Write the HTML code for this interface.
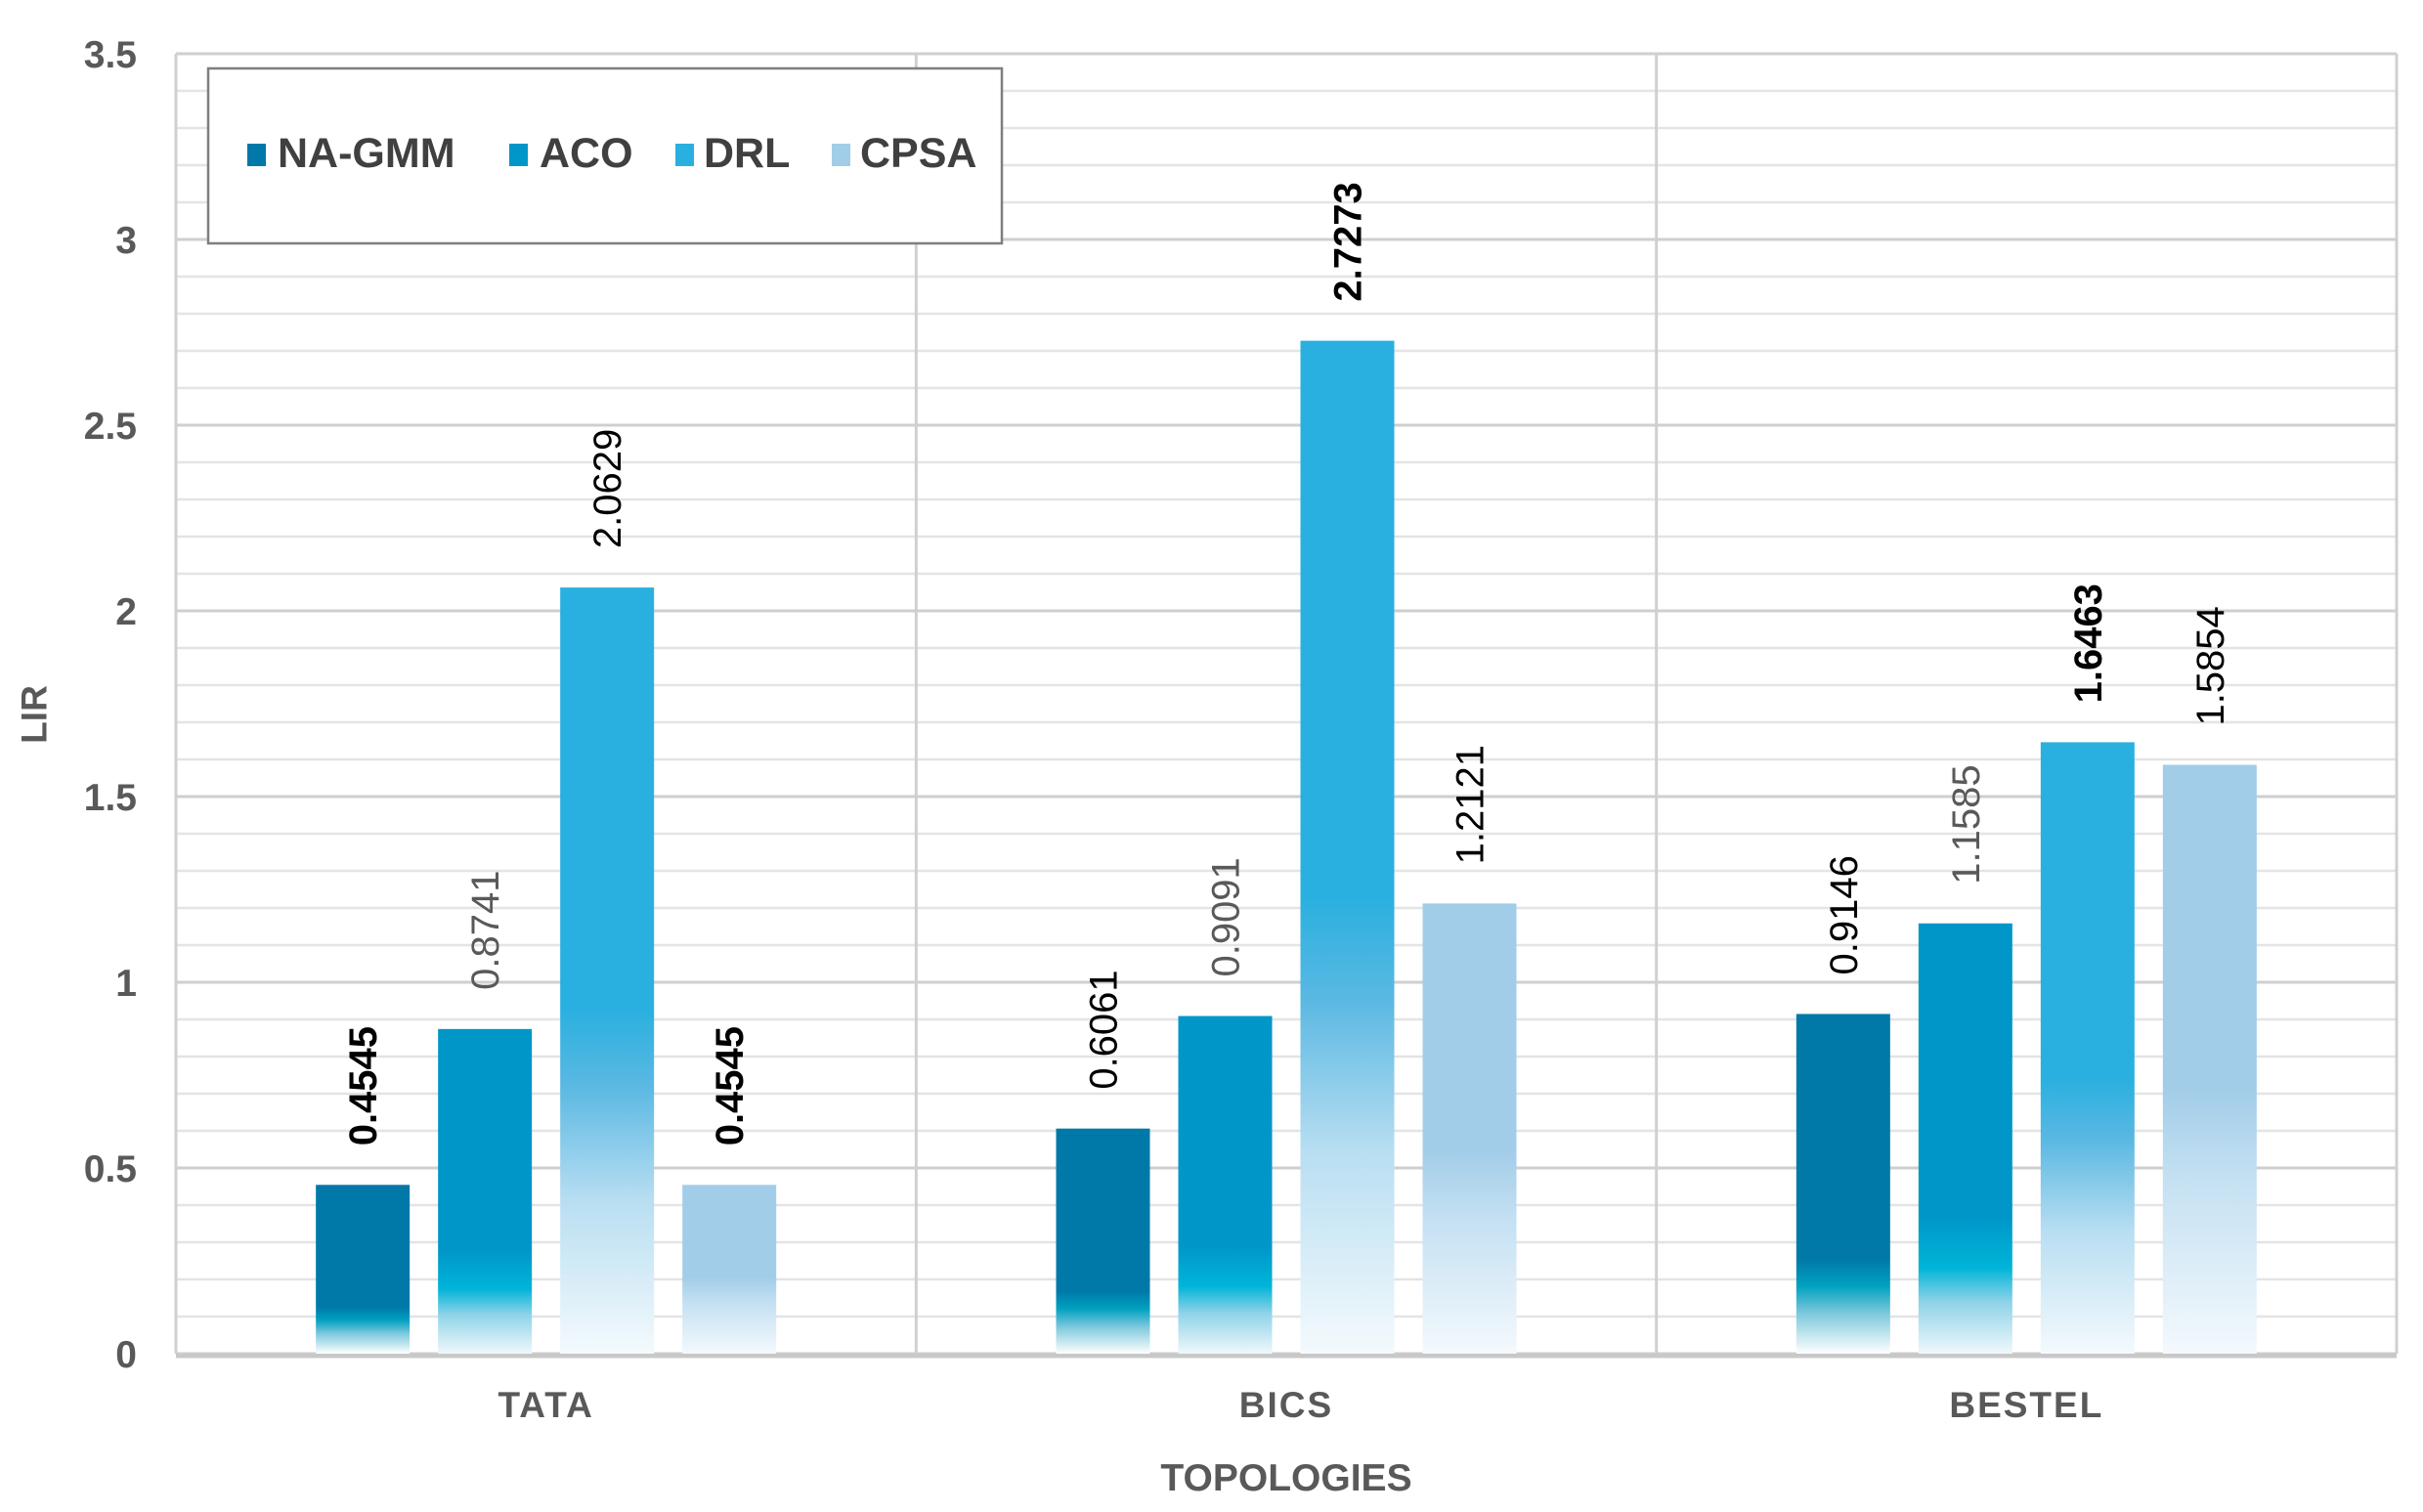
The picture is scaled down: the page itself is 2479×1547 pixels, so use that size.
<!DOCTYPE html>
<html><head><meta charset="utf-8"><style>
body{margin:0;background:#fff}
svg{display:block;font-family:"Liberation Sans",Arial,sans-serif}
</style></head><body>
<svg id="c" width="2479" height="1547" viewBox="0 0 2479 1547">
<defs>
<linearGradient id="g0" x1="0" y1="1" x2="0" y2="0"><stop offset="0" stop-color="#fff"/><stop offset="0.12" stop-color="#7cc8dc"/><stop offset="0.2" stop-color="#00a0c0"/><stop offset="0.28" stop-color="#0078a8"/><stop offset="1" stop-color="#0078a8"/></linearGradient>
<linearGradient id="g1" x1="0" y1="1" x2="0" y2="0"><stop offset="0" stop-color="#f0f8fc"/><stop offset="0.12" stop-color="#8fd3e8"/><stop offset="0.2" stop-color="#00b4d8"/><stop offset="0.32" stop-color="#0096c8"/><stop offset="1" stop-color="#0096c8"/></linearGradient>
<linearGradient id="g2" x1="0" y1="1" x2="0" y2="0"><stop offset="0" stop-color="#f4fafd"/><stop offset="0.2" stop-color="#b8def2"/><stop offset="0.35" stop-color="#5ab8e2"/><stop offset="0.45" stop-color="#2ab0e0"/><stop offset="1" stop-color="#2ab0e0"/></linearGradient>
<linearGradient id="g3" x1="0" y1="1" x2="0" y2="0"><stop offset="0" stop-color="#f4f9fd"/><stop offset="0.3" stop-color="#c4e0f2"/><stop offset="0.45" stop-color="#a2cde9"/><stop offset="1" stop-color="#a2cde9"/></linearGradient>
</defs>
<g id="grid"></g>
<g id="bars"></g>
<g id="labels"></g>
<text x="35" y="731" transform="rotate(-90 35 731)" text-anchor="middle" dominant-baseline="central" font-size="37" font-weight="bold" fill="#595959">LIR</text>
<text x="1316" y="1525" text-anchor="middle" font-size="39" font-weight="bold" fill="#595959">TOPOLOGIES</text>
<g>
<rect x="213" y="70" width="812" height="179" fill="#fff" stroke="#7f7f7f" stroke-width="2.5"/>
<rect x="253" y="147" width="19" height="23" fill="#0078a8"/><text x="284" y="171" font-size="43" font-weight="bold" fill="#404040">NA-GMM</text>
<rect x="521" y="147" width="19" height="23" fill="#0096c8"/><text x="552" y="171" font-size="43" font-weight="bold" fill="#404040">ACO</text>
<rect x="691" y="147" width="19" height="23" fill="#2ab0e0"/><text x="720" y="171" font-size="43" font-weight="bold" fill="#404040">DRL</text>
<rect x="851" y="147" width="19" height="23" fill="#a2cde9"/><text x="880" y="171" font-size="43" font-weight="bold" fill="#404040">CPSA</text>
</g>
</svg>
<script>
const categories = ["TATA", "BICS", "BESTEL"];
const seriesNames = ["NA-GMM", "ACO", "DRL", "CPSA"];
const naGmm = [0.4545, 0.6061, 0.9146];
const aco = [0.8741, 0.9091, 1.1585];
const drl = [2.0629, 2.7273, 1.6463];
const cpsa = [0.4545, 1.2121, 1.5854];
const yTicks = ["0", "0.5", "1", "1.5", "2", "2.5", "3", "3.5"];
const boldLabels = [[true,false,false],[false,false,false],[false,true,true],[true,false,false]];
const greyLabels = [[false,false,false],[true,true,true],[false,false,false],[false,false,false]];

const series = [naGmm, aco, drl, cpsa];
const L = 180, R = 2452, B = 1385, T = 55, yMax = 3.5;
const ns = "http://www.w3.org/2000/svg";
const y = v => B - v / yMax * (B - T);
const gw = (R - L) / categories.length;
const x = (ci, si) => L + gw * ci + gw / 2 + (si - 1.5) * 125;
function mk(tag, attrs, parent) { const e = document.createElementNS(ns, tag); for (const k in attrs) e.setAttribute(k, attrs[k]); parent.appendChild(e); return e; }
const grid = document.getElementById('grid'), bars = document.getElementById('bars'), labels = document.getElementById('labels');
for (let i = 0; i <= 35; i++) {
  const v = i / 10, major = i % 5 === 0;
  const ln = mk('line', {x1: L, x2: R, y1: y(v), y2: y(v), stroke: major ? '#cfcfcf' : '#e4e4e4', 'stroke-width': major ? 3 : 2.5}, grid);
  
  
}
yTicks.forEach(t => {
  const tx = mk('text', {x: 140, y: y(parseFloat(t)) + 14, 'text-anchor': 'end', 'font-size': 39, 'font-weight': 'bold', fill: '#595959'}, labels);
  tx.textContent = t;
  
  
});
for (let c = 0; c <= categories.length; c++) {
  const ln = mk('line', {x1: L + gw * c, x2: L + gw * c, y1: T, y2: B, stroke: '#d0d0d0', 'stroke-width': 3}, grid);
  
  
}
const ax = mk('line', {x1: L, x2: R, y1: B + 2, y2: B + 2, stroke: '#c8c8c8', 'stroke-width': 5}, grid);


categories.forEach((cat, ci) => {
  const tx = mk('text', {x: L + gw * ci + gw / 2, y: 1450, 'text-anchor': 'middle', 'font-size': 37, 'font-weight': 'bold', fill: '#595959', 'letter-spacing': 2}, labels);
  tx.textContent = cat;
  
  
  series.forEach((s, si) => {
    const v = s[ci], bx = x(ci, si) - 48;
    const r = mk('rect', {x: bx, y: y(v), width: 96, height: B - y(v), fill: 'url(#g' + si + ')'}, bars);
    
    
    const lx = x(ci, si) + 14, ly = y(v) - 40;
    const t = mk('text', {x: lx, y: ly, transform: 'rotate(-90 ' + lx + ' ' + ly + ')', 'font-size': 40, 'font-weight': boldLabels[si][ci] ? 'bold' : 'normal', fill: greyLabels[si][ci] ? '#595959' : '#000'}, labels);
    t.textContent = v.toFixed(4);
    
    
  });
});
</script>
</body></html>
